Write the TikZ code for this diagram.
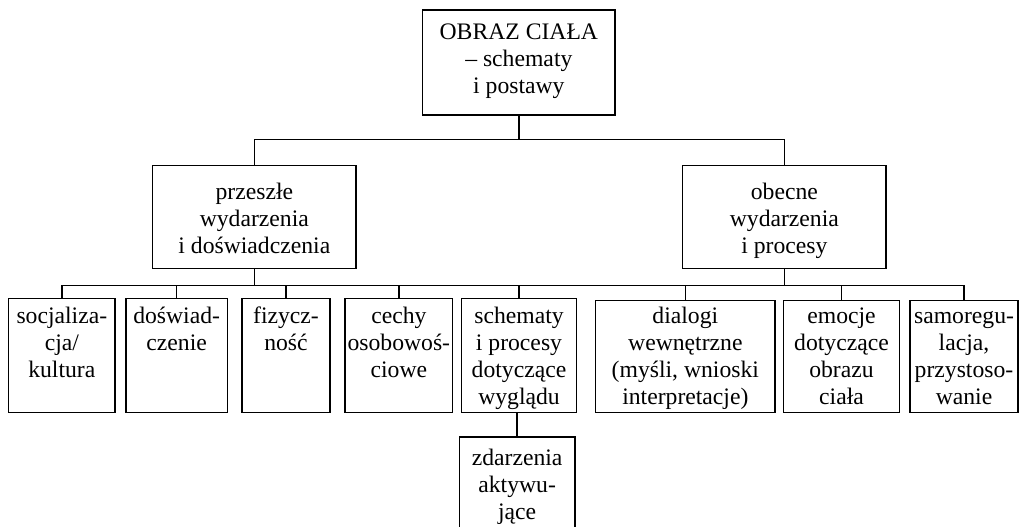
\documentclass[tikz,border=0pt]{standalone}
\usepackage{fontspec}
\setmainfont{Liberation Serif}
\usetikzlibrary{fit}
\begin{document}
\begin{tikzpicture}[x=0.75pt,y=-0.75pt,
  box/.style={draw=black, line width=1.1pt, inner sep=0pt, rectangle},
  txt/.style={align=center, inner sep=0pt, anchor=north, font=\fontsize{17.75pt}{20.25pt}\selectfont},
  conn/.style={draw=black, line width=1.1pt}]
\useasboundingbox (0,0) rectangle (1019,526);
% boxes
\node[box, fit={(422.7,10) (615,115)}] (top) {};
\node[box, fit={(152.7,165.7) (356,268.3)}] (lmid) {};
\node[box, fit={(682.7,165.7) (886,268.3)}] (rmid) {};
\node[box, fit={(8.7,298.7) (115,412.7)}] (b1) {};
\node[box, fit={(126,298.7) (227.3,412.7)}] (b2) {};
\node[box, fit={(242,298.7) (330,412.7)}] (b3) {};
\node[box, fit={(345,298.7) (452.7,412.7)}] (b4) {};
\node[box, fit={(461.7,298.7) (576.3,412.7)}] (b5) {};
\node[box, fit={(595.7,300.7) (775,412.7)}] (b6) {};
\node[box, fit={(783.7,300.7) (899.3,412.7)}] (b7) {};
\node[box, fit={(910,300.7) (1018,412.7)}] (b8) {};
\node[box, fit={(459.3,437) (575,540)}] (z) {};
% texts
\node[txt] (ttop) at (top.center |- 0,20.1) {\strut OBRAZ CIAŁA\\– schematy\\i postawy};
\node[txt] (tlmid) at (lmid.center |- 0,180.1) {\strut przeszłe\\wydarzenia\\i doświadczenia};
\node[txt] (trmid) at (rmid.center |- 0,180.1) {\strut obecne\\wydarzenia\\i procesy};
\node[txt] (tb1) at (b1.center |- 0,304.4) {\strut socjaliza-\\cja/\\kultura};
\node[txt] (tb2) at (b2.center |- 0,304.4) {\strut doświad-\\czenie};
\node[txt] (tb3) at (b3.center |- 0,304.4) {\strut fizycz-\\ność};
\node[txt] (tb4) at (b4.center |- 0,304.4) {\strut cechy\\osobowoś-\\ciowe};
\node[txt] (tb5) at (b5.center |- 0,304.4) {\strut schematy\\i procesy\\dotyczące\\wyglądu};
\node[txt] (tb6) at (b6.center |- 0,304.4) {\strut dialogi\\wewnętrzne\\(myśli, wnioski\\interpretacje)};
\node[txt] (tb7) at (b7.center |- 0,304.4) {\strut emocje\\dotyczące\\obrazu\\ciała};
\node[txt] (tb8) at (b8.center |- 0,304.4) {\strut samoregu-\\lacja,\\przystoso-\\wanie};
\node[txt] (tz) at (z.center |- 0,446.1) {\strut zdarzenia\\aktywu-\\jące};
% bars
\coordinate (barA) at (0,139.3);
\coordinate (barB) at (0,285.7);
% connectors
\draw[conn] (top.south) -- (top.south |- barA);
\draw[conn] (lmid.north) -- (lmid.north |- barA) -- (rmid.north |- barA) -- (rmid.north);
\draw[conn] (lmid.south) -- (lmid.south |- barB);
\draw[conn] (rmid.south) -- (rmid.south |- barB);
\draw[conn] (b1.north) -- (b1.north |- barB) -- (b8.north |- barB) -- (b8.north);
\foreach \b in {b2,b3,b4,b5,b6,b7} {\draw[conn] (\b.north) -- (\b.north |- barB);}
\draw[conn] (z.north) -- (z.north |- b5.south);
\end{tikzpicture}
\end{document}
